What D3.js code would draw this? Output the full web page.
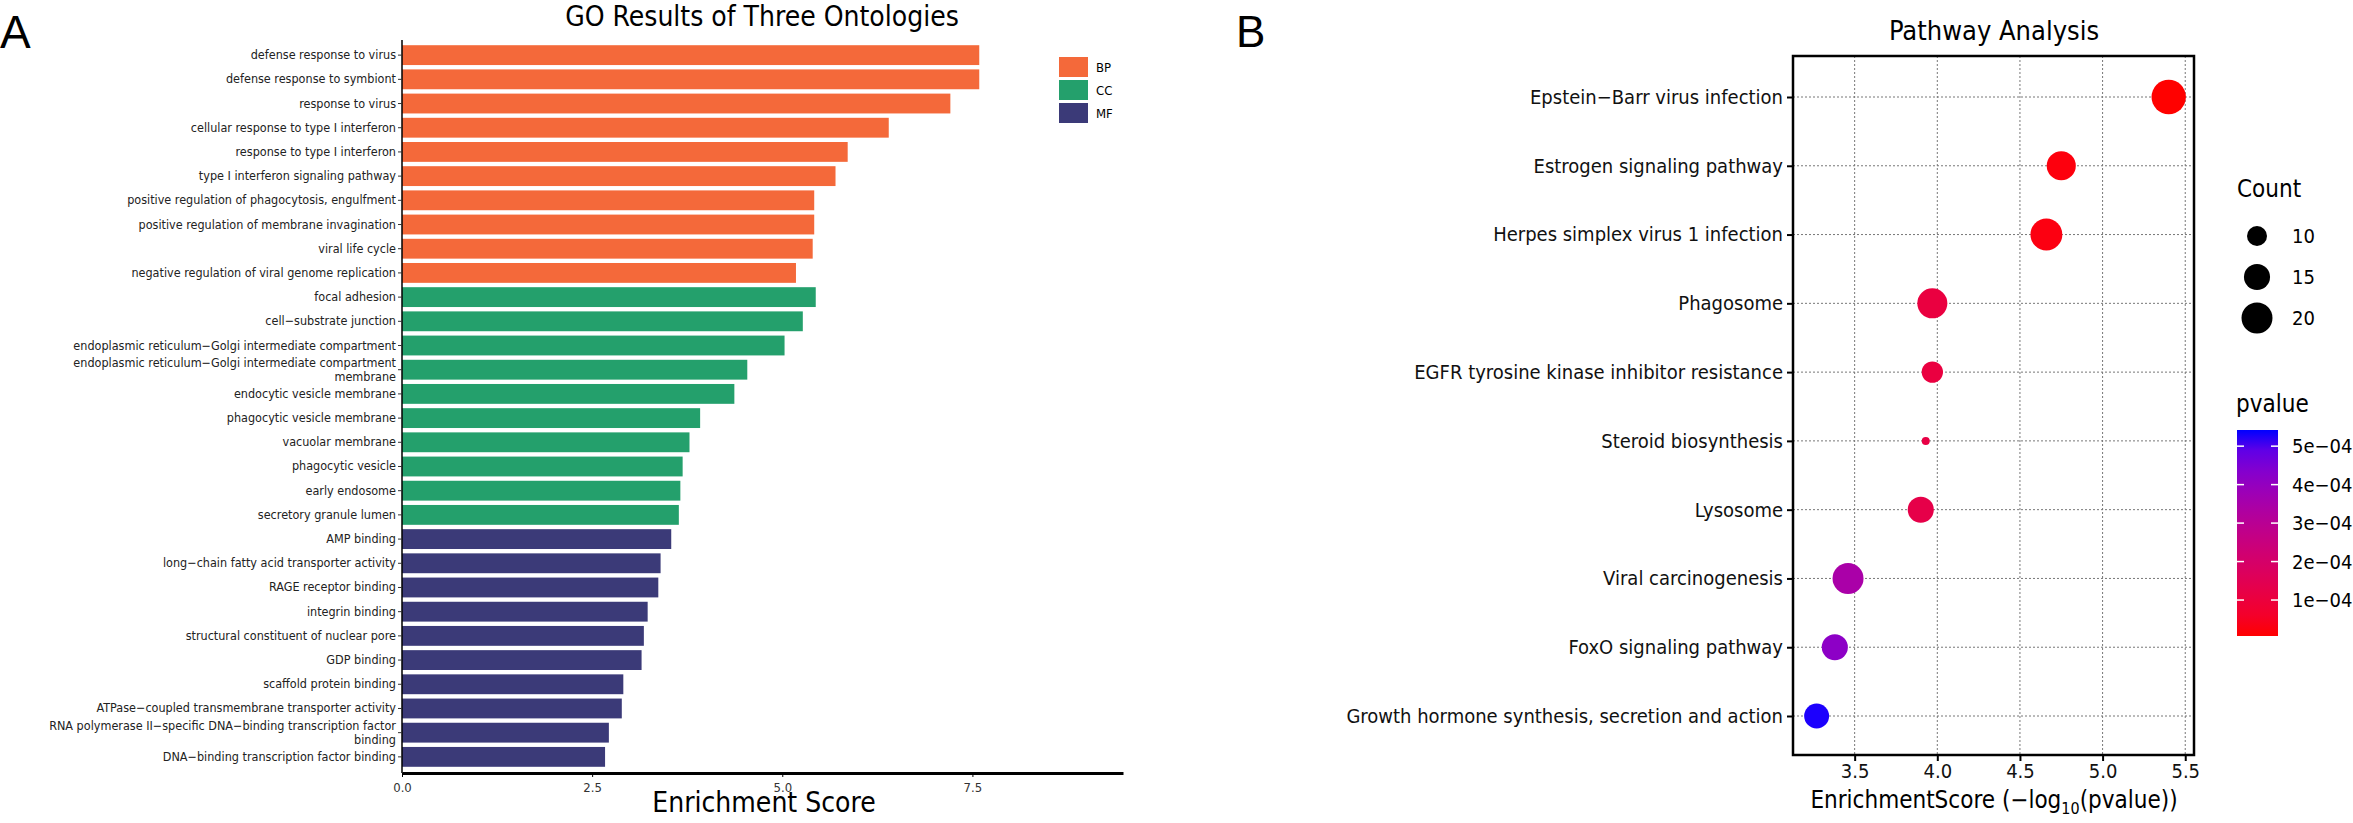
<!DOCTYPE html>
<html>
<head>
<meta charset="utf-8">
<script src="https://cdn.jsdelivr.net/npm/d3@7"></script>
<style>
  body { margin: 0; background: #fff; }
  svg text { font-family: "Liberation Sans Narrow", "DejaVu Sans Condensed", "Liberation Sans", sans-serif; }
</style>
</head>
<body>
<div id="chart"></div>
<script>
// GO terms (top to bottom), enrichment scores and ontology
const goTerms = [
  "defense response to virus", "defense response to symbiont", "response to virus",
  "cellular response to type I interferon", "response to type I interferon",
  "type I interferon signaling pathway", "positive regulation of phagocytosis, engulfment",
  "positive regulation of membrane invagination", "viral life cycle",
  "negative regulation of viral genome replication",
  "focal adhesion", "cell−substrate junction",
  "endoplasmic reticulum−Golgi intermediate compartment",
  "endoplasmic reticulum−Golgi intermediate compartment\nmembrane",
  "endocytic vesicle membrane", "phagocytic vesicle membrane", "vacuolar membrane",
  "phagocytic vesicle", "early endosome", "secretory granule lumen",
  "AMP binding", "long−chain fatty acid transporter activity", "RAGE receptor binding",
  "integrin binding", "structural constituent of nuclear pore", "GDP binding",
  "scaffold protein binding", "ATPase−coupled transmembrane transporter activity",
  "RNA polymerase II−specific DNA−binding transcription factor\nbinding",
  "DNA−binding transcription factor binding"
];
const goScores = [7.59, 7.59, 7.21, 6.40, 5.86, 5.70, 5.42, 5.42, 5.40, 5.18,
  5.44, 5.27, 5.03, 4.54, 4.37, 3.92, 3.78, 3.69, 3.66, 3.64,
  3.54, 3.40, 3.37, 3.23, 3.18, 3.15, 2.91, 2.89, 2.72, 2.67];
const goOntology = ["BP","BP","BP","BP","BP","BP","BP","BP","BP","BP",
  "CC","CC","CC","CC","CC","CC","CC","CC","CC","CC",
  "MF","MF","MF","MF","MF","MF","MF","MF","MF","MF"];
const ontologies = ["BP", "CC", "MF"];
const ontologyColors = ["#F4693A", "#24A06C", "#3B3A78"];
const goTicks = [0, 2.5, 5.0, 7.5];

// KEGG pathways
const pathways = [
  "Epstein−Barr virus infection", "Estrogen signaling pathway", "Herpes simplex virus 1 infection",
  "Phagosome", "EGFR tyrosine kinase inhibitor resistance", "Steroid biosynthesis",
  "Lysosome", "Viral carcinogenesis", "FoxO signaling pathway",
  "Growth hormone synthesis, secretion and action"
];
const pathScores = [5.40, 4.75, 4.66, 3.97, 3.97, 3.93, 3.90, 3.46, 3.38, 3.27];
const pathCounts = [24, 18, 21, 19, 11, 4, 15, 20, 15, 14];
const pathPvalues = [4.0e-6, 1.8e-5, 2.2e-5, 1.07e-4, 1.07e-4, 1.17e-4, 1.26e-4, 3.47e-4, 4.17e-4, 5.37e-4];
const pathTicks = [3.5, 4.0, 4.5, 5.0, 5.5];
const countLegend = [10, 15, 20];
const pvalueTicks = [1e-4, 2e-4, 3e-4, 4e-4, 5e-4];

const svg = d3.select("#chart").append("svg").attr("width", 2353).attr("height", 823);

// ---------- Panel A ----------
svg.append("text").attr("x", 0).attr("y", 48).style("font-size", "46px").style("font-family", "Liberation Sans").text("A");

const a = svg.append("g");
const ax = d3.scaleLinear().domain([0, 9.48]).range([402, 1123]);
const ay = d3.scaleBand().domain(goTerms).range([44, 768]).paddingInner(0.18).paddingOuter(0.05);
const aColor = d3.scaleOrdinal().domain(ontologies).range(ontologyColors);

a.append("text").attr("x", 762).attr("y", 26).attr("text-anchor", "middle")
  .style("font-size", "28px").text("GO Results of Three Ontologies");

a.selectAll(".bar").data(goTerms).enter().append("rect")
  .attr("x", ax(0)).attr("y", d => ay(d))
  .attr("width", (d, i) => ax(goScores[i]) - ax(0))
  .attr("height", ay.bandwidth())
  .attr("fill", (d, i) => aColor(goOntology[i]));

// y axis
a.append("line").attr("x1", ax(0)).attr("x2", ax(0)).attr("y1", 40).attr("y2", 773)
  .attr("stroke", "#000").attr("stroke-width", 1.5);
goTerms.forEach(t => {
  const cy = ay(t) + ay.bandwidth() / 2;
  a.append("line").attr("x1", ax(0) - 4).attr("x2", ax(0)).attr("y1", cy).attr("y2", cy).attr("stroke", "#333");
  const lines = t.split("\n");
  const txt = a.append("text").attr("x", ax(0) - 6).attr("text-anchor", "end")
    .style("font-size", "12.5px").attr("fill", "#222");
  lines.forEach((l, k) => {
    txt.append("tspan").attr("x", ax(0) - 6)
      .attr("y", cy + 4 + (k - (lines.length - 1) / 2) * 14).text(l);
  });
});

// x axis
const axG = a.append("g").attr("transform", "translate(0,773)")
  .call(d3.axisBottom(ax).tickValues(goTicks).tickFormat(d3.format(".1f")).tickSize(4).tickSizeOuter(0));
axG.select(".domain").attr("stroke-width", 3);
axG.selectAll("text").style("font-size", "13px").attr("fill", "#333").attr("dy", "0.9em");
a.append("text").attr("x", 764).attr("y", 812).attr("text-anchor", "middle")
  .style("font-size", "28px").text("Enrichment Score");

// legend
const aLeg = a.append("g").attr("transform", "translate(1059,57)");
ontologies.forEach((o, i) => {
  aLeg.append("rect").attr("x", 0).attr("y", i * 23).attr("width", 29).attr("height", 20).attr("fill", aColor(o));
  aLeg.append("text").attr("x", 37).attr("y", i * 23 + 15).style("font-size", "13px").text(o);
});

// ---------- Panel B ----------
svg.append("text").attr("x", 1236).attr("y", 47).style("font-size", "44px").style("font-family", "Liberation Sans").text("B");

const b = svg.append("g");
const bx = d3.scaleLinear().domain([3.127, 5.553]).range([1793, 2194]);
const by = d3.scalePoint().domain(pathways).range([97, 716]);
const bTop = 56, bBottom = 755;
const rScale = c => Math.sqrt(Math.max(14 * c - 40, 12));
const pColor = d3.scaleLinear().domain([6.5e-6, 5.42e-4]).range(["#FF0000", "#0000FF"]).interpolate(d3.interpolateLab);

b.append("text").attr("x", 1994).attr("y", 40).attr("text-anchor", "middle")
  .style("font-size", "27px").text("Pathway Analysis");

// grid
pathTicks.forEach(t => b.append("line").attr("x1", bx(t)).attr("x2", bx(t)).attr("y1", bTop).attr("y2", bBottom)
  .attr("stroke", "#777").attr("stroke-dasharray", "2,2"));
pathways.forEach(p => b.append("line").attr("x1", bx.range()[0]).attr("x2", bx.range()[1]).attr("y1", by(p)).attr("y2", by(p))
  .attr("stroke", "#777").attr("stroke-dasharray", "2,2"));

b.selectAll(".dot").data(pathways).enter().append("circle")
  .attr("cx", (d, i) => bx(pathScores[i])).attr("cy", d => by(d))
  .attr("r", (d, i) => rScale(pathCounts[i]))
  .attr("fill", (d, i) => pColor(pathPvalues[i]));

b.append("rect").attr("x", 1793).attr("y", bTop).attr("width", 401).attr("height", bBottom - bTop)
  .attr("fill", "none").attr("stroke", "#000").attr("stroke-width", 2.5);

// y axis
const byG = b.append("g").attr("transform", "translate(1793,0)")
  .call(d3.axisLeft(by).tickSize(6).tickPadding(4));
byG.select(".domain").remove();
byG.selectAll("line").attr("stroke-width", 2);
byG.selectAll("text").style("font-size", "20px").attr("fill", "#111");

// x axis
const bxG = b.append("g").attr("transform", `translate(0,${bBottom})`)
  .call(d3.axisBottom(bx).tickValues(pathTicks).tickFormat(d3.format(".1f")).tickSize(6));
bxG.select(".domain").remove();
bxG.selectAll("line").attr("stroke-width", 2);
bxG.selectAll("text").style("font-size", "20px").attr("fill", "#111");
const xt = b.append("text").attr("x", 1994).attr("y", 808).attr("text-anchor", "middle").style("font-size", "24px");
xt.append("tspan").text("EnrichmentScore (−log");
xt.append("tspan").attr("dy", 6).style("font-size", "16px").text("10");
xt.append("tspan").attr("dy", -6).text("(pvalue))");

// count legend
b.append("text").attr("x", 2237).attr("y", 197).style("font-size", "24px").text("Count");
countLegend.forEach((c, i) => {
  const cy = 236 + i * 41;
  b.append("circle").attr("cx", 2257).attr("cy", cy).attr("r", rScale(c)).attr("fill", "#000");
  b.append("text").attr("x", 2292).attr("y", cy + 7).style("font-size", "20px").text(c);
});

// pvalue colour bar
b.append("text").attr("x", 2236).attr("y", 412).style("font-size", "24px").text("pvalue");
const grad = svg.append("defs").append("linearGradient").attr("id", "pgrad")
  .attr("x1", 0).attr("y1", 1).attr("x2", 0).attr("y2", 0);
d3.range(0, 1.01, 0.1).forEach(f => grad.append("stop").attr("offset", f)
  .attr("stop-color", pColor(pColor.domain()[0] + f * (pColor.domain()[1] - pColor.domain()[0]))));
const cbY = d3.scaleLinear().domain(pColor.domain()).range([636, 430]);
b.append("rect").attr("x", 2237).attr("y", 430).attr("width", 41).attr("height", 206).attr("fill", "url(#pgrad)");
pvalueTicks.forEach(t => {
  const yy = cbY(t);
  b.append("line").attr("x1", 2237).attr("x2", 2244).attr("y1", yy).attr("y2", yy).attr("stroke", "#fff").attr("stroke-width", 1.5);
  b.append("line").attr("x1", 2271).attr("x2", 2278).attr("y1", yy).attr("y2", yy).attr("stroke", "#fff").attr("stroke-width", 1.5);
  b.append("text").attr("x", 2292).attr("y", yy + 7).style("font-size", "20px")
    .text(d3.format(".0e")(t).replace("e-", "e−0"));
});
</script>
</body>
</html>
